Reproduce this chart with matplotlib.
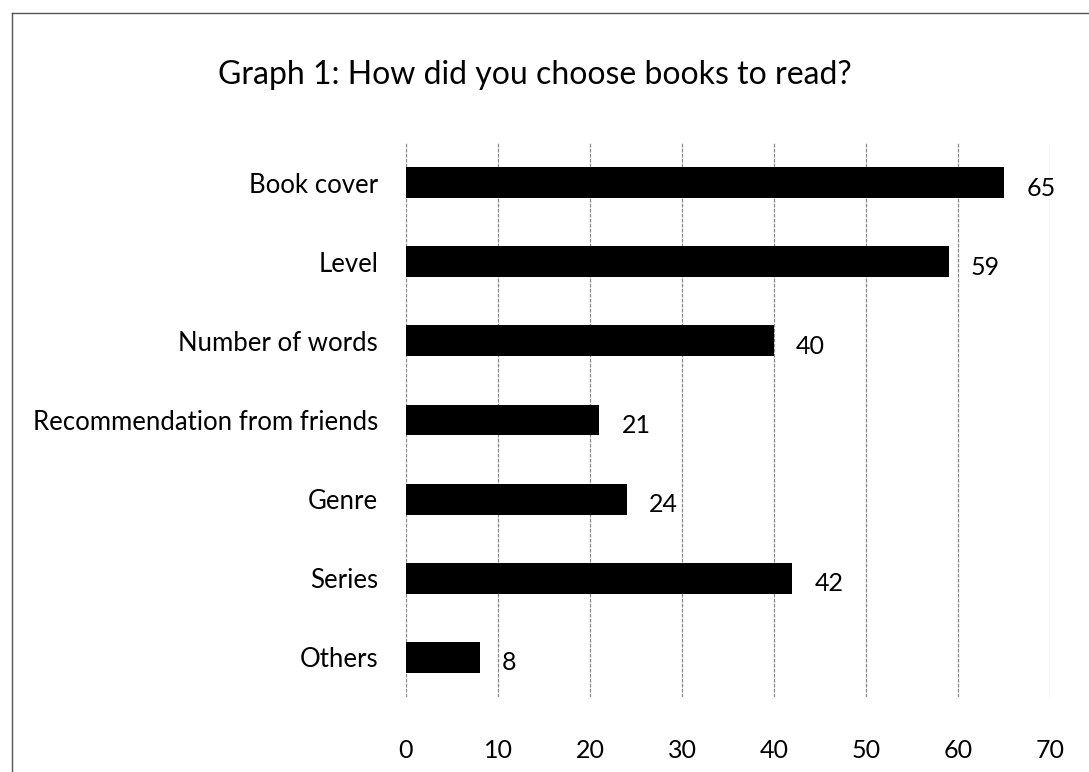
import matplotlib
matplotlib.use("Agg")
import matplotlib.pyplot as plt
from matplotlib.lines import Line2D

categories = ["Book cover", "Level", "Number of words", "Recommendation from friends",
              "Genre", "Series", "Others"]
values = [65, 59, 40, 21, 24, 42, 8]
x_ticks = [0, 10, 20, 30, 40, 50, 60, 70]
title = "Graph 1: How did you choose books to read?"

plt.rcParams['font.family'] = ['Lato', 'DejaVu Sans']

W, H = 1089, 772
fig = plt.figure(figsize=(W / 100, H / 100), dpi=100)
ax = fig.add_axes([406 / W, 1 - 697 / H, (1050 - 406) / W, (697 - 143) / H])

ypos = list(range(len(categories)))
ax.barh(ypos, values, height=0.39, color="black", zorder=3)
ax.set_ylim(len(categories) - 0.5, -0.5)
ax.set_xlim(0, 70)
ax.set_xticks(x_ticks)
ax.set_xticklabels([str(t) for t in x_ticks])
ax.set_yticks(ypos)
ax.set_yticklabels(categories)
ax.tick_params(axis="both", length=0)
ax.tick_params(axis="y", pad=20, labelsize=18.5)
ax.tick_params(axis="x", pad=30, labelsize=18)
for s in ax.spines.values():
    s.set_visible(False)
ax.grid(axis="x", color="#8a8a8a", linewidth=0.9, linestyle=(0, (3, 1)), zorder=0)

for y, v in zip(ypos, values):
    ax.annotate(str(v), xy=(v, y), xytext=(16, -4), textcoords="offset points",
                ha="left", va="center", fontsize=18)

fig.text(535 / W, 1 - 75 / H, title, ha="center", va="center", fontsize=23)

fig.add_artist(Line2D([12 / W, 12 / W], [0, 1 - 13 / H], transform=fig.transFigure,
                      color="#555555", linewidth=1))
fig.add_artist(Line2D([12 / W, 1], [1 - 13 / H, 1 - 13 / H], transform=fig.transFigure,
                      color="#555555", linewidth=1))

fig.savefig("out.png", dpi=100)
